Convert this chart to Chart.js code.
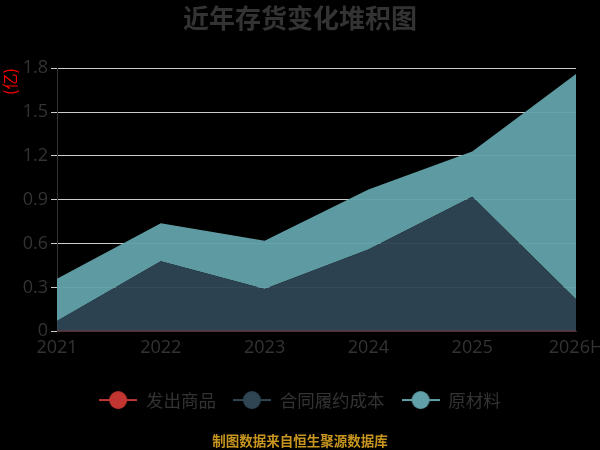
<!DOCTYPE html>
<html>
<head>
<meta charset="utf-8">
<script src="https://cdn.jsdelivr.net/npm/chart.js@4.4.1/dist/chart.umd.min.js"></script>
<style>
  html,body{margin:0;padding:0;background:#000;}
  #wrap{width:600px;height:450px;}
</style>
</head>
<body>
<div id="wrap"><canvas id="c" width="600" height="450"></canvas></div>
<script>
var years = ['2021','2022','2023','2024','2025','2026H'];
var yTicks = [0,0.3,0.6,0.9,1.2,1.5,1.8];
// 亿元
var fachu = [0,0,0,0,0,0];                       // 发出商品
var hetong = [0.07,0.48,0.29,0.56,0.92,0.22];    // 合同履约成本
var yuancai = [0.29,0.26,0.33,0.41,0.31,1.54];   // 原材料

var names = ['发出商品','合同履约成本','原材料'];
var colors = ['#c23531','#2f4554','#61a0a8'];
var fills = ['rgba(194,53,49,0.95)','rgba(47,69,84,0.96)','rgba(97,160,168,0.96)'];

// legend icon: short line with a circle in the middle
function makeIcon(col){
  var cv = document.createElement('canvas');
  cv.width = 38; cv.height = 20;
  var g = cv.getContext('2d');
  g.strokeStyle = col; g.lineWidth = 2;
  g.beginPath(); g.moveTo(0,10); g.lineTo(38,10); g.stroke();
  g.fillStyle = col;
  g.beginPath(); g.arc(19,10,9,0,Math.PI*2); g.fill();
  return cv;
}
var icons = colors.map(makeIcon);

var ctx = document.getElementById('c').getContext('2d');
var chart = new Chart(ctx,{
  type:'line',
  data:{
    labels:years,
    datasets:[
      {label:names[0],data:fachu,borderColor:colors[0],backgroundColor:fills[0],borderWidth:1,pointRadius:0,fill:'origin',tension:0},
      {label:names[1],data:hetong,borderColor:colors[1],backgroundColor:fills[1],borderWidth:0,pointRadius:0,fill:'-1',tension:0},
      {label:names[2],data:yuancai,borderColor:colors[2],backgroundColor:fills[2],borderWidth:0,pointRadius:0,fill:'-1',tension:0}
    ]
  },
  options:{
    responsive:false,
    animation:false,
    layout:{padding:0},
    plugins:{
      title:{
        display:true,
        text:'近年存货变化堆积图',
        color:'#333',
        font:{size:26,weight:'bold',family:'"Noto Sans CJK SC", sans-serif'},
        padding:{top:3,bottom:34}
      },
      legend:{
        position:'bottom',
        labels:{
          color:'#333',
          font:{size:17.5,family:'"Noto Sans CJK SC", sans-serif'},
          usePointStyle:true,
          pointStyleWidth:38,
          boxHeight:17,
          padding:17,
          generateLabels:function(ch){
            return ch.data.datasets.map(function(ds,i){
              return {text:ds.label,pointStyle:icons[i],fillStyle:colors[i],strokeStyle:colors[i],fontColor:'#333',datasetIndex:i,hidden:false};
            });
          }
        }
      },
      subtitle:{
        display:true,
        position:'bottom',
        text:'制图数据来自恒生聚源数据库',
        color:'#c8961e',
        font:{size:13.5,weight:'bold',family:'"Noto Sans CJK SC", sans-serif'},
        padding:{top:14,bottom:1}
      },
      tooltip:{enabled:false}
    },
    scales:{
      x:{
        offset:false,
        grid:{display:false,drawOnChartArea:false,drawTicks:true,tickLength:6,color:'#333'},
        border:{display:true,color:'#333'},
        ticks:{color:'#333',font:{size:18,family:'"Open Sans", sans-serif'},padding:0,maxRotation:0,autoSkip:false},
        afterFit:function(s){s.height=43;s.paddingRight=24;}
      },
      y:{
        stacked:true,
        min:0,max:1.8,
        afterBuildTicks:function(s){s.ticks=yTicks.map(function(v){return {value:v};});},
        grid:{color:'rgba(225,225,225,0.9)',lineWidth:1,drawTicks:true,tickLength:6},
        border:{display:true,color:'#333'},
        ticks:{color:'#333',font:{size:18,family:'"Open Sans", sans-serif'},padding:3,
          callback:function(v){return v===0?'0':v.toFixed(1);}},
        title:{display:true,text:'(亿)',color:'#ff0000',align:'end',font:{size:16,family:'"Noto Sans CJK SC", sans-serif'},padding:{top:0,bottom:0}},
        afterFit:function(s){s.width=57;}
      }
    }
  }
});
</script>
</body>
</html>
